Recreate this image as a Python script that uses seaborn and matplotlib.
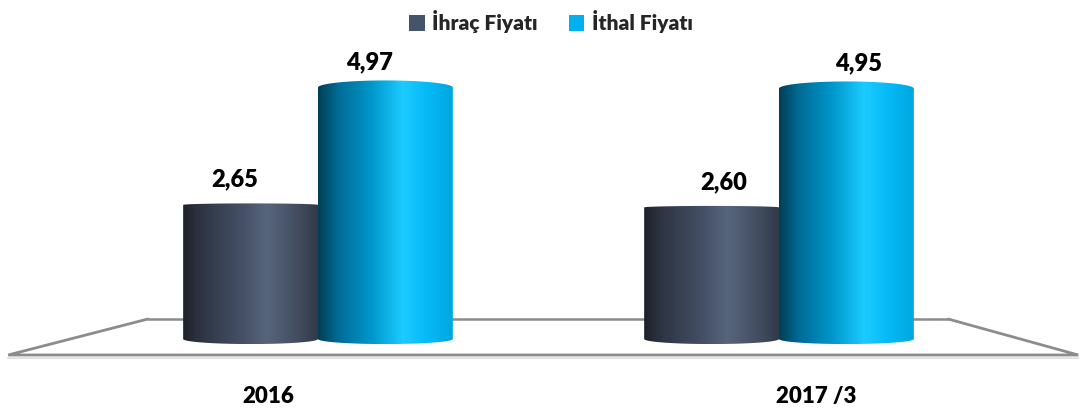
import numpy as np
import pandas as pd
import matplotlib
matplotlib.use("Agg")
import matplotlib.pyplot as plt
import seaborn as sns
from matplotlib.path import Path
from matplotlib.patches import PathPatch, Patch
from matplotlib.colors import LinearSegmentedColormap

# data
categories = ["2016", "2017 /3"]
series = ["İhraç Fiyatı", "İthal Fiyatı"]
ihrac = [2.65, 2.60]
ithal = [4.97, 4.95]

df = pd.DataFrame({
    "Dönem": categories * 2,
    "Seri": [series[0]] * 2 + [series[1]] * 2,
    "Değer": ihrac + ithal,
})

colors = ["#44546a", "#00b0f0"]

sns.set_theme(style="white")
plt.rcParams["font.family"] = ["Lato", "DejaVu Sans"]

fig = plt.figure(figsize=(10.8, 4.18), dpi=100)
ax = fig.add_axes([0, 0, 1, 1])

sns.barplot(data=df, x="Dönem", y="Değer", hue="Seri", hue_order=series,
            order=categories, palette=colors, width=0.585, legend=False, ax=ax)

# pixel mapping: x=0 at 318px, 461 px per unit; y=0 at 339px from top, 50.6 px per unit
ax.set_xlim(-318 / 461, (1080 - 318) / 461)
ax.set_ylim(-79 / 50.6, (418 - 79) / 50.6)
ax.axis("off")

# 3D floor outline
floor_col = "#8c8c8c"
bl, fl, fr, br = (-0.369, 0.395), (-0.672, -0.316), (1.649, -0.316), (1.367, 0.395)
ax.plot([bl[0], br[0]], [bl[1], br[1]], color=floor_col, lw=1.8, zorder=0)
ax.plot([bl[0], fl[0], fr[0], br[0]], [bl[1], fl[1], fr[1], br[1]],
        color=floor_col, lw=2, zorder=1, solid_joinstyle="miter")
ax.plot([fl[0], fr[0]], [fl[1] - 0.05, fr[1] - 0.05], color="#e3e3e3", lw=1.5, zorder=1)

# cylinder shading
cmaps = [
    LinearSegmentedColormap.from_list("dark", [
        (0.0, "#1d2129"), (0.12, "#2d3441"), (0.45, "#465168"),
        (0.62, "#57657c"), (0.85, "#434d60"), (1.0, "#323947")]),
    LinearSegmentedColormap.from_list("cyan", [
        (0.0, "#033e55"), (0.15, "#006c95"), (0.4, "#0098cc"),
        (0.63, "#1ccbff"), (0.82, "#05b9f6"), (1.0, "#00a6de")]),
]
top_depth = [0.03, 0.14]
bot_depth = 0.1
grad = np.linspace(0, 1, 256).reshape(1, -1)

for i, cont in enumerate(ax.containers):
    for bar in cont:
        x0 = bar.get_x()
        w = bar.get_width()
        h = bar.get_height()
        bar.set_visible(False)
        t = np.linspace(0, np.pi, 60)
        xs_bot = x0 + w / 2 - np.cos(t) * w / 2
        ys_bot = -np.sin(t) * bot_depth
        xs_top = x0 + w / 2 + np.cos(t) * w / 2
        ys_top = h + np.sin(t) * top_depth[i]
        verts = np.vstack([np.column_stack([xs_bot, ys_bot]),
                           np.column_stack([xs_top, ys_top]),
                           [[x0, ys_bot[0]]]])
        codes = [Path.MOVETO] + [Path.LINETO] * (len(verts) - 2) + [Path.CLOSEPOLY]
        clip = PathPatch(Path(verts, codes), facecolor="none", edgecolor="none",
                         transform=ax.transData)
        ax.add_patch(clip)
        im = ax.imshow(grad, cmap=cmaps[i], aspect="auto", interpolation="bicubic",
                       extent=(x0, x0 + w, -bot_depth, h + top_depth[i]), zorder=3)
        im.set_clip_path(clip)

# value labels
offsets = [-0.035, 0.026]
for i, cont in enumerate(ax.containers):
    for j, bar in enumerate(cont):
        v = bar.get_height()
        ax.text(bar.get_x() + bar.get_width() / 2 + offsets[j], v + 0.36,
                f"{v:.2f}".replace(".", ","), ha="center", va="baseline",
                fontsize=17, fontweight="heavy", color="black", zorder=5)

# category labels
cat_pos = [-0.108, 1.08]
for pos, lab in zip(cat_pos, categories):
    ax.text(pos, -1.146, lab, ha="center", va="center", fontsize=16,
            fontweight="heavy", color="black")

handles = [Patch(facecolor=c, edgecolor="none") for c in colors]
ax.legend(handles, series, loc="upper center", bbox_to_anchor=(0.51, 1.02), ncol=2,
          frameon=False, prop={"weight": "heavy", "size": 15},
          handlelength=0.75, handleheight=0.75, handletextpad=0.35, columnspacing=1.5)

fig.savefig("out.png", dpi=100)
